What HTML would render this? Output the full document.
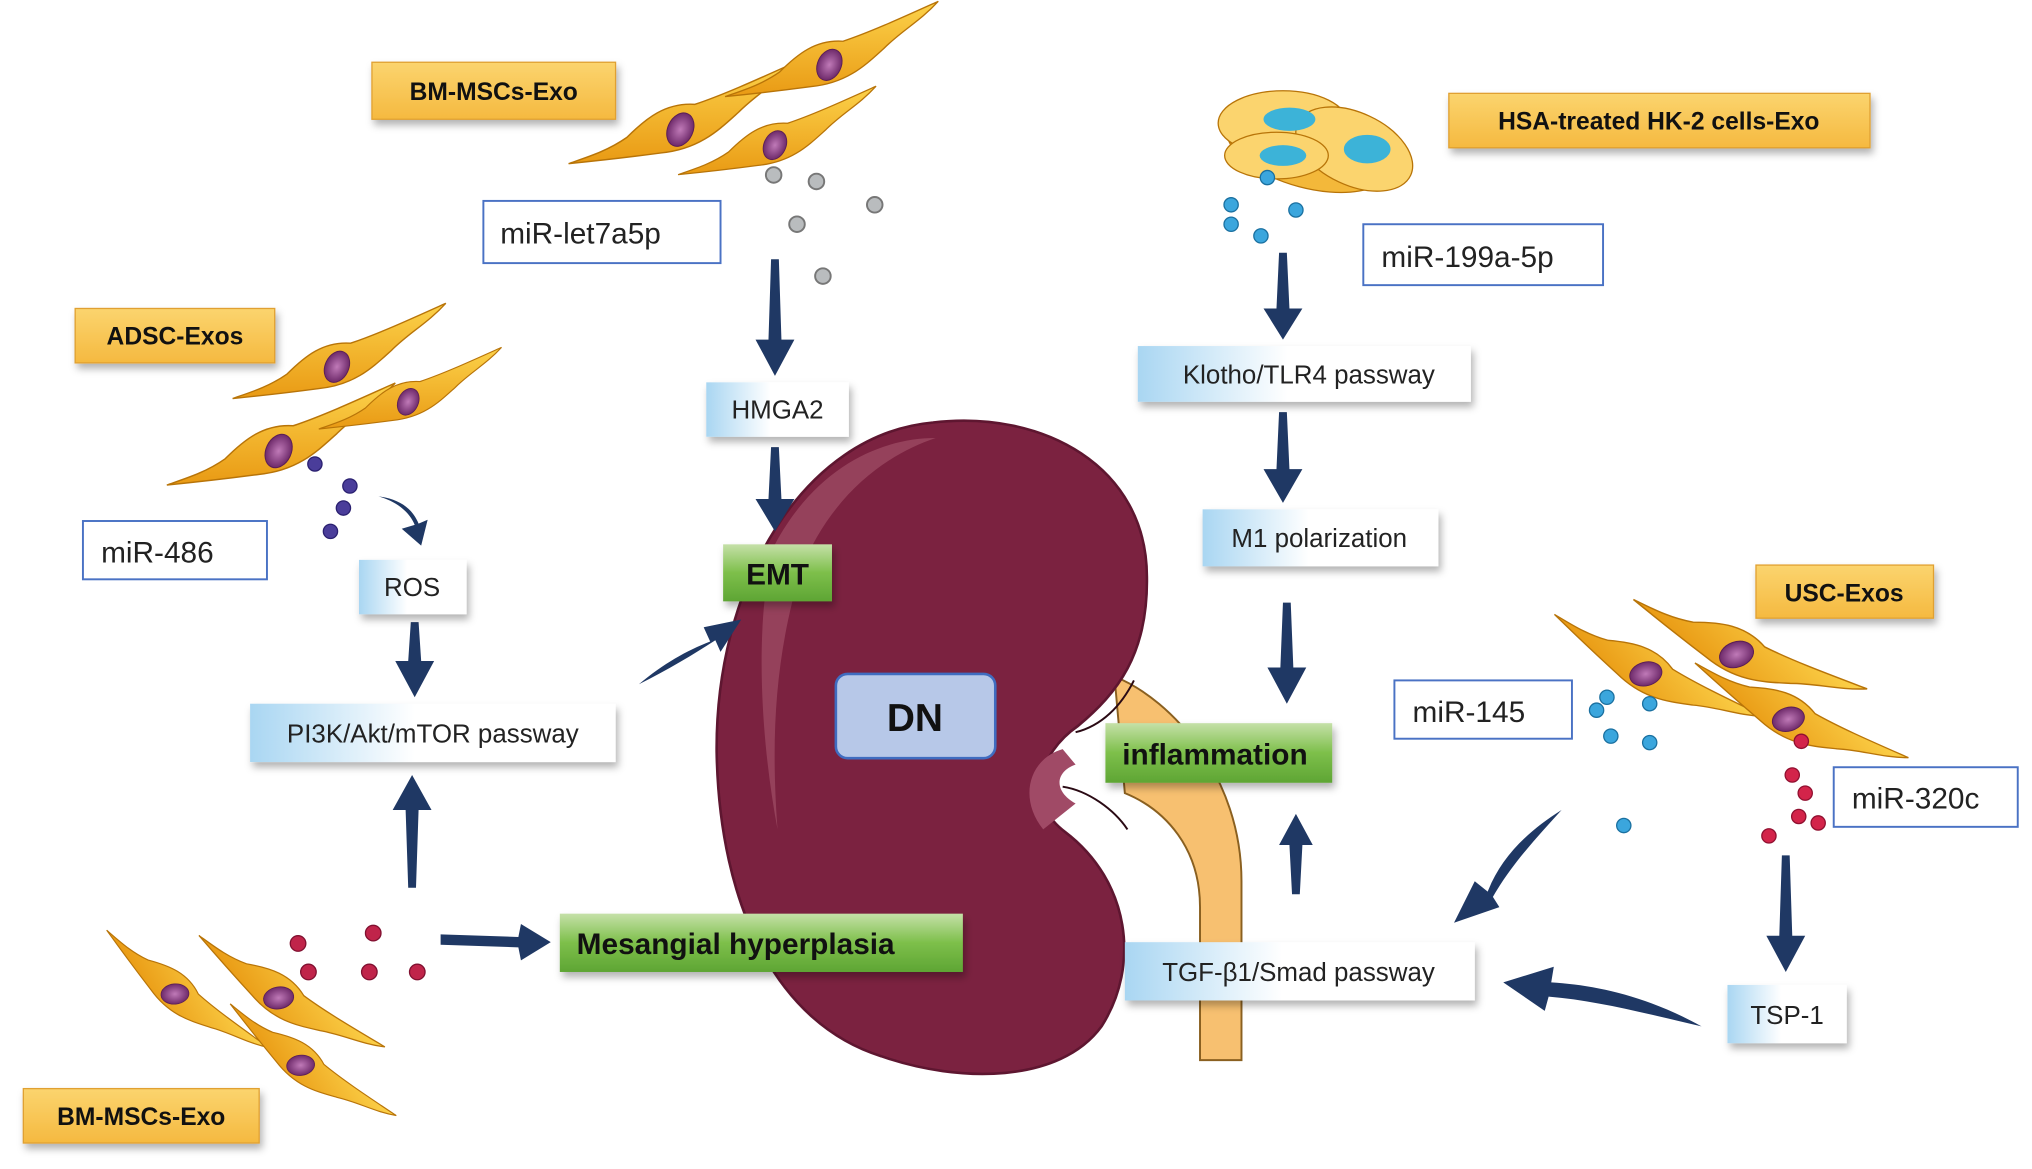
<!DOCTYPE html>
<html><head><meta charset="utf-8"><style>
html,body{margin:0;padding:0;background:#fff}
svg{display:block}
text{font-family:"Liberation Sans",Arial,sans-serif}
</style></head><body>
<svg width="2032" height="1169" viewBox="0 0 1568 902" xmlns="http://www.w3.org/2000/svg">
<defs>
<linearGradient id="lb" x1="0" y1="0" x2="1" y2="0"><stop offset="0" stop-color="#a9d6f2"/><stop offset="0.45" stop-color="#ffffff"/><stop offset="1" stop-color="#ffffff"/></linearGradient>
<linearGradient id="og" x1="0" y1="0" x2="0" y2="1"><stop offset="0" stop-color="#fbd46e"/><stop offset="1" stop-color="#f5b940"/></linearGradient>
<linearGradient id="gg" x1="0" y1="0" x2="0" y2="1"><stop offset="0" stop-color="#c5e0a8"/><stop offset="0.5" stop-color="#7dbf4a"/><stop offset="1" stop-color="#5ea534"/></linearGradient>
<linearGradient id="cellg" x1="0" y1="0" x2="0" y2="1"><stop offset="0" stop-color="#fcd24a"/><stop offset="1" stop-color="#e99a14"/></linearGradient>
<radialGradient id="nuc"><stop offset="0" stop-color="#c07ab8"/><stop offset="1" stop-color="#6e2a6a"/></radialGradient>
<filter id="sh" x="-20%" y="-30%" width="140%" height="170%"><feDropShadow dx="2" dy="4" stdDeviation="3" flood-color="#000" flood-opacity="0.3"/></filter>
<g id="cell">
<path d="M-115,35 C-95,28 -75,22 -55,8 C-35,-12 -15,-28 15,-26 C45,-36 80,-52 120,-70 C100,-48 80,-38 60,-18 C40,0 20,20 -20,24 C-50,28 -85,32 -115,35 Z" fill="url(#cellg)" stroke="#b87408" stroke-width="1.5"/>
<ellipse cx="0" cy="0" rx="13" ry="18" transform="rotate(25)" fill="url(#nuc)" stroke="#5a1e55" stroke-width="1"/>
</g>
</defs>

<use href="#cell" transform="translate(525,100) scale(0.75)"/>
<use href="#cell" transform="translate(640,50) scale(0.7)"/>
<use href="#cell" transform="translate(598,112) scale(0.65)"/>
<use href="#cell" transform="translate(260,283) scale(0.7)"/>
<use href="#cell" transform="translate(215,348) scale(0.75)"/>
<use href="#cell" transform="translate(315,310) scale(0.6)"/>
<use href="#cell" transform="translate(135,767) scale(0.6) rotate(60)"/>
<use href="#cell" transform="translate(215,770) scale(0.65) rotate(55)"/>
<use href="#cell" transform="translate(232,822) scale(0.6) rotate(58)"/>
<use href="#cell" transform="translate(1270,520) scale(0.7) rotate(50)"/>
<use href="#cell" transform="translate(1340,505) scale(0.75) rotate(45)"/>
<use href="#cell" transform="translate(1380,555) scale(0.7) rotate(48)"/>
<g>
<ellipse cx="1010" cy="115" rx="65" ry="30" fill="#f3b83a" stroke="#b87408" transform="rotate(15 1010 115)"/>
<ellipse cx="990" cy="95" rx="50" ry="25" fill="#fbd46e" stroke="#b87408"/>
<ellipse cx="1045" cy="115" rx="48" ry="28" fill="#fbd46e" stroke="#b87408" transform="rotate(25 1045 115)"/>
<ellipse cx="985" cy="120" rx="40" ry="18" fill="#fbd46e" stroke="#b87408"/>
<ellipse cx="995" cy="92" rx="20" ry="9" fill="#3cb3d8"/>
<ellipse cx="1055" cy="115" rx="18" ry="11" fill="#3cb3d8"/>
<ellipse cx="990" cy="120" rx="18" ry="8" fill="#3cb3d8"/>
</g>

<g fill="#b9bcbe" stroke="#777" stroke-width="1.5">
<circle cx="597" cy="135" r="6"/><circle cx="630" cy="140" r="6"/><circle cx="675" cy="158" r="6"/><circle cx="615" cy="173" r="6"/><circle cx="635" cy="213" r="6"/></g>
<g fill="#4a3d9a" stroke="#2a2070"><circle cx="243" cy="358" r="5.5"/><circle cx="270" cy="375" r="5.5"/><circle cx="265" cy="392" r="5.5"/><circle cx="255" cy="410" r="5.5"/></g>
<g fill="#c0244a" stroke="#801030"><circle cx="230" cy="728" r="6"/><circle cx="288" cy="720" r="6"/><circle cx="238" cy="750" r="6"/><circle cx="285" cy="750" r="6"/><circle cx="322" cy="750" r="6"/></g>
<g fill="#3ba6dd" stroke="#1a70a0"><circle cx="950" cy="158" r="5.5"/><circle cx="950" cy="173" r="5.5"/><circle cx="973" cy="182" r="5.5"/><circle cx="1000" cy="162" r="5.5"/><circle cx="978" cy="137" r="5.5"/>
<circle cx="1232" cy="548" r="5.5"/><circle cx="1240" cy="538" r="5.5"/><circle cx="1273" cy="543" r="5.5"/><circle cx="1243" cy="568" r="5.5"/><circle cx="1273" cy="573" r="5.5"/><circle cx="1253" cy="637" r="5.5"/></g>
<g fill="#d3244a" stroke="#901030"><circle cx="1390" cy="572" r="5.5"/><circle cx="1383" cy="598" r="5.5"/><circle cx="1393" cy="612" r="5.5"/><circle cx="1388" cy="630" r="5.5"/><circle cx="1403" cy="635" r="5.5"/><circle cx="1365" cy="645" r="5.5"/></g>

<path d="M860,522 C905,540 958,600 958,680 L958,818 L926,818 L926,700 C926,655 900,625 868,612 Z" fill="#f7c070" stroke="#8a6020" stroke-width="1.5"/>
<path d="M720,326 C805,316 885,360 885,445 C886,505 862,535 832,560 C800,582 792,620 822,642 C872,680 880,745 850,792 C818,836 740,836 680,815 C600,790 555,700 553,580 C552,450 620,335 720,326 Z" fill="#7b2240" stroke="#5e1630" stroke-width="2"/>
<path d="M598,420 C630,360 680,338 722,338 C680,352 640,385 618,440 C600,500 594,560 600,640 C585,560 583,470 598,420 Z" fill="#9c4a62" opacity="0.8"/>
<path d="M820,578 C795,585 785,615 805,640 L830,620 C812,610 815,595 830,590 Z" fill="#a04a66"/>
<path d="M820,607 C840,610 860,625 870,640" stroke="#2a0a14" stroke-width="1.5" fill="none"/>
<path d="M830,565 C850,560 865,545 875,525" stroke="#2a0a14" stroke-width="1.5" fill="none"/>
<rect x="645" y="520" width="123" height="65" rx="9" fill="#b7c8e8" stroke="#3f6cc0" stroke-width="2"/>
<text x="706" y="564" font-size="30" font-weight="bold" text-anchor="middle" fill="#111">DN</text>

<g fill="#1f3864">
<polygon points="595,200 601,200 603,262 613,262 598,290 583,262 593,262"/>
<polygon points="595,345 601,345 603,385 613,385 598,410 583,385 593,385"/>
<polygon points="317,480 323,480 325,510 335,510 320,538 305,510 315,510"/>
<polygon points="315,685 321,685 323,625 333,625 318,598 303,625 313,625"/>
<polygon points="987,195 993,195 995,238 1005,238 990,262 975,238 985,238"/>
<polygon points="987,318 993,318 995,362 1005,362 990,388 975,362 985,362"/>
<polygon points="990,465 996,465 998,515 1008,515 993,543 978,515 988,515"/>
<polygon points="997,690 1003,690 1005,652 1013,652 1000,628 987,652 995,652"/>
<polygon points="1375,660 1381,660 1383,722 1393,722 1378,750 1363,722 1373,722"/>
<polygon points="340,721 340,729 400,731 402,741 425,727 402,713 400,723"/>
<path d="M493,528 C512,512 530,502 548,495 L543,484 L572,478 L556,503 L552,494 C535,505 515,517 493,528 Z"/>
<path d="M292,383 C306,387 316,395 320,405 L310,408 L325,421 L330,401 L323,404 C318,392 308,385 292,383 Z"/>
<path d="M1205,625 C1178,642 1158,662 1148,688 L1138,680 L1122,712 L1157,700 L1152,692 C1167,666 1187,645 1205,625 Z"/>
<path d="M1313,792 C1270,768 1230,760 1197,758 L1199,746 L1160,758 L1192,780 L1195,769 C1232,772 1270,782 1313,792 Z"/>
</g>

<g filter="url(#sh)">
<rect x="287" y="48" width="188" height="44" fill="url(#og)" stroke="#e0a030"/>
<rect x="58" y="238" width="154" height="42" fill="url(#og)" stroke="#e0a030"/>
<rect x="18" y="840" width="182" height="42" fill="url(#og)" stroke="#e0a030"/>
<rect x="1118" y="72" width="325" height="42" fill="url(#og)" stroke="#e0a030"/>
<rect x="1355" y="436" width="137" height="41" fill="url(#og)" stroke="#e0a030"/>
</g>
<g font-size="19" font-weight="bold" fill="#111" text-anchor="middle">
<text x="381" y="77">BM-MSCs-Exo</text>
<text x="135" y="266">ADSC-Exos</text>
<text x="109" y="868">BM-MSCs-Exo</text>
<text x="1280" y="100">HSA-treated HK-2 cells-Exo</text>
<text x="1423" y="464">USC-Exos</text>
</g>

<g fill="#fff" stroke="#4a72c4" stroke-width="1.5">
<rect x="373" y="155" width="183" height="48"/>
<rect x="64" y="402" width="142" height="45"/>
<rect x="1052" y="173" width="185" height="47"/>
<rect x="1076" y="525" width="137" height="45"/>
<rect x="1415" y="592" width="142" height="46"/>
</g>
<g font-size="23" fill="#222">
<text x="386" y="188">miR-let7a5p</text>
<text x="78" y="434">miR-486</text>
<text x="1066" y="206">miR-199a-5p</text>
<text x="1090" y="557">miR-145</text>
<text x="1429" y="624">miR-320c</text>
</g>

<g filter="url(#sh)" fill="url(#lb)">
<rect x="545" y="295" width="110" height="42"/>
<rect x="277" y="432" width="83" height="42"/>
<rect x="193" y="543" width="282" height="45"/>
<rect x="878" y="267" width="257" height="43"/>
<rect x="928" y="393" width="182" height="44"/>
<rect x="868" y="727" width="270" height="45"/>
<rect x="1333" y="760" width="92" height="45"/>
</g>
<g font-size="20" fill="#222" text-anchor="middle">
<text x="600" y="323">HMGA2</text>
<text x="318" y="460">ROS</text>
<text x="334" y="573">PI3K/Akt/mTOR passway</text>
<text x="1010" y="296">Klotho/TLR4 passway</text>
<text x="1018" y="422">M1 polarization</text>
<text x="1002" y="757">TGF-β1/Smad passway</text>
<text x="1379" y="790">TSP-1</text>
</g>

<g filter="url(#sh)" fill="url(#gg)">
<rect x="558" y="420" width="84" height="44"/>
<rect x="432" y="705" width="311" height="45"/>
<rect x="853" y="558" width="175" height="46"/>
</g>
<g font-size="23" font-weight="bold" fill="#111">
<text x="600" y="451" text-anchor="middle">EMT</text>
<text x="445" y="736">Mesangial hyperplasia</text>
<text x="866" y="590">inflammation</text>
</g>
</svg>
</body></html>
